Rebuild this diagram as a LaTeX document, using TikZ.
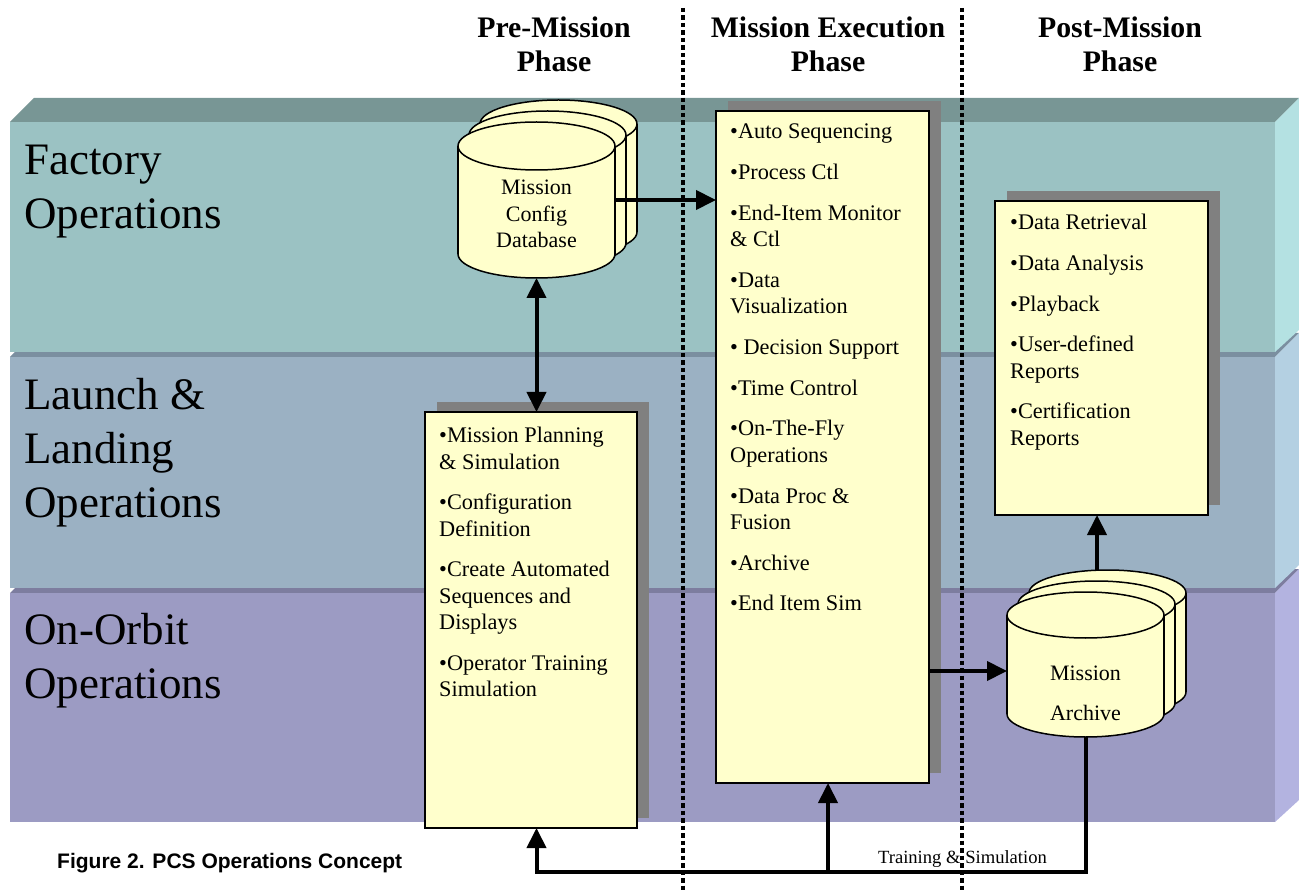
\documentclass[tikz,border=0pt]{standalone}
\usepackage{fontspec}
\setmainfont{Liberation Serif}
\newfontfamily\capfont{Liberation Sans}
\usetikzlibrary{arrows.meta,shadows}

\definecolor{facttop}{HTML}{789695}
\definecolor{factfront}{HTML}{9BC2C3}
\definecolor{factside}{HTML}{B4E1E2}
\definecolor{launchtop}{HTML}{7B8FA0}
\definecolor{launchfront}{HTML}{9BB1C3}
\definecolor{launchside}{HTML}{B4D0E2}
\definecolor{orbittop}{HTML}{7D7D9F}
\definecolor{orbitfront}{HTML}{9C9BC3}
\definecolor{orbitside}{HTML}{B3B3E0}
\definecolor{paleyellow}{HTML}{FFFFCC}
\definecolor{shadowgray}{HTML}{808080}

% one drum: center x, center y, half width, half height, y radius
\newcommand{\drum}[5]{%
  \filldraw[drumline] (#1,#2+#4) ellipse [x radius=#3, y radius=#5];
  \fill[paleyellow] (#1-#3,#2-#4) rectangle (#1+#3,#2+#4);
  \draw[drumline] (#1-#3,#2-#4) -- (#1-#3,#2+#4) (#1+#3,#2-#4) -- (#1+#3,#2+#4);
  \filldraw[drumline] (#1,#2-#4) ellipse [x radius=#3, y radius=#5];
}
% three drums stacked back to front
\newcommand{\drumstack}[5]{%
  \drum{#1+22}{#2-22}{#3}{#4}{#5}
  \drum{#1+11}{#2-11}{#3}{#4}{#5}
  \drum{#1}{#2}{#3}{#4}{#5}
}

\begin{document}
\begin{tikzpicture}[x=1pt,y=-1pt,
    drumline/.style={draw=black, fill=paleyellow, line width=1.5pt},
    box/.style={draw=black, line width=1.5pt, fill=paleyellow, inner sep=0, outer sep=0,
      general shadow={fill=shadowgray, shadow xshift=12pt, shadow yshift=10pt}},
    items/.style={anchor=north west, align=left, inner sep=0, font=\fontsize{22.3}{26.4}\selectfont},
    band/.style={anchor=west, align=left, inner sep=0, font=\fontsize{45}{54}\selectfont},
    head/.style={align=center, inner sep=0, font=\fontsize{29.8}{34}\selectfont\bfseries},
    arr/.style={line width=4pt, -{Triangle[length=20pt,width=19pt]}},
    dblarr/.style={line width=4pt, {Triangle[length=20pt,width=19pt]}-{Triangle[length=20pt,width=19pt]}},
    phase/.style={line width=4.5pt, dash pattern=on 4.5pt off 3pt}]

    \useasboundingbox (0,0) rectangle (1299,890);

    % Bands (lowest first)
    \fill[orbittop] (10,593) -- (34,569) -- (1299,569) -- (1275,593) -- cycle;
    \fill[orbitfront] (10,593) rectangle (1275,822);
    \fill[orbitside] (1275,593) -- (1299,569) -- (1299,800) -- (1275,822) -- cycle;

    \fill[launchtop] (10,357) -- (34,333) -- (1299,333) -- (1275,357) -- cycle;
    \fill[launchfront] (10,357) rectangle (1275,588);
    \fill[launchside] (1275,357) -- (1299,333) -- (1299,565) -- (1275,588) -- cycle;

    \fill[facttop] (10,122) -- (34,98) -- (1299,98) -- (1275,122) -- cycle;
    \fill[factfront] (10,122) rectangle (1275,352);
    \fill[factside] (1275,122) -- (1299,98) -- (1299,330) -- (1275,352) -- cycle;

    \node[band] (factory) at (24,192) {Factory\\Operations};
    \node[band] (launch) at (24,453) {Launch \&\\Landing\\Operations};
    \node[band] (orbit) at (24,661) {On-Orbit\\Operations};

    % Phase headings
    \node[head] (prehead) at (554,44) {Pre-Mission\\Phase};
    \node[head] (exehead) at (828,44) {Mission Execution\\Phase};
    \node[head] (posthead) at (1120,44) {Post-Mission\\Phase};

    % Databases
    \drumstack{536.5}{200}{78.5}{54}{24}
    \node[minimum width=157, minimum height=156, inner sep=0, outer sep=0] (db) at (536.5,200) {};
    \node[align=center, inner sep=0, font=\fontsize{22}{26.5}\selectfont] (dbtxt) at (536.5,214) {Mission\\Config\\Database};

    \drumstack{1085.5}{664.5}{78.5}{49.5}{23}
    \node[minimum width=157, minimum height=145, inner sep=0, outer sep=0] (arch) at (1085.5,664.5) {};
    \node[align=center, inner sep=0, font=\fontsize{22}{40}\selectfont] (archtxt) at (1085.5,693.5) {Mission\\Archive};

    % Boxes
    \node[box, minimum width=212, minimum height=416] (plan) at (531,620) {};
    \node[items] (plantxt) at (439,427) {%
      •Mission Planning\\ \& Simulation\\[14.3pt]
      •Configuration\\Definition\\[14.3pt]
      •Create Automated\\Sequences and\\Displays\\[14.3pt]
      •Operator Training\\Simulation};

    \node[box, minimum width=213, minimum height=672] (exec) at (822.5,447) {};
    \node[items] (exectxt) at (730,124) {%
      •Auto Sequencing\\[14.3pt]
      •Process Ctl\\[14.3pt]
      •End-Item Monitor\\\& Ctl\\[14.3pt]
      •Data\\Visualization\\[14.3pt]
      • Decision Support\\[14.3pt]
      •Time Control\\[14.3pt]
      •On-The-Fly\\Operations\\[14.3pt]
      •Data Proc \&\\Fusion\\[14.3pt]
      •Archive\\[14.3pt]
      •End Item Sim};

    \node[box, minimum width=213, minimum height=314] (post) at (1101.5,358) {};
    \node[items] (posttxt) at (1010,214) {%
      •Data Retrieval\\[14.3pt]
      •Data Analysis\\[14.3pt]
      •Playback\\[14.3pt]
      •User-defined\\Reports\\[14.3pt]
      •Certification\\Reports};

    % Flows
    \draw[arr] (db.east) -- (db.east -| exec.west);
    \draw[dblarr] (db.south) -- (db.south |- plan.north);
    \draw[arr] ([yshift=-6.5pt]exec.east |- arch.west) -- ([yshift=-6.5pt]arch.west);
    \coordinate (archback) at (1097,570);
    \draw[arr] (archback) -- (archback |- post.south);

    % Training & Simulation loop
    \coordinate (loopR) at (1085.5,872);
    \coordinate (loopL) at (536.5,872);
    \coordinate (loopM) at (828,872);
    \draw[arr] (arch.south) -- (loopR) -- (loopL) -- (loopL |- plan.south);
    \draw[arr] (loopM) -- (loopM |- exec.south);
    \node[inner sep=0, font=\fontsize{18.6}{22}\selectfont] (trainlbl) at (962.5,859) {Training \& Simulation};

    % Phase dividers
    \draw[phase] (683,8) -- (683,890);
    \draw[phase] (962,8) -- (962,890);

    % Caption
    \node[anchor=west, inner sep=0, font=\capfont\bfseries\fontsize{21}{24}\selectfont] (caption) at (57,863) {Figure 2. PCS Operations Concept};

\end{tikzpicture}
\end{document}
